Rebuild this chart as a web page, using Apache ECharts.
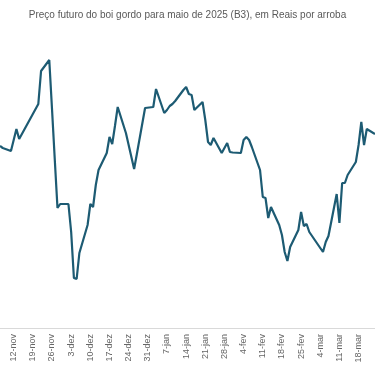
<!DOCTYPE html>
<html>
<head>
<meta charset="utf-8">
<script src="https://cdn.jsdelivr.net/npm/echarts@6/dist/echarts.min.js"></script>
<style>html,body{margin:0;padding:0;background:#fff}#c{width:375px;height:366px}</style>
</head>
<body>
<div id="c"></div>
<script>
const titleText = 'Preço futuro do boi gordo para maio de 2025 (B3), em Reais por arroba';
const monthNames = ['jan','fev','mar','abr','mai','jun','jul','ago','set','out','nov','dez'];
const dates = ['2024-11-07','2024-11-08','2024-11-11','2024-11-12','2024-11-13','2024-11-14','2024-11-18','2024-11-19','2024-11-21','2024-11-22','2024-11-25','2024-11-26','2024-11-27','2024-11-28','2024-11-29',
'2024-12-02','2024-12-03','2024-12-04','2024-12-05','2024-12-06','2024-12-09','2024-12-10','2024-12-11','2024-12-12','2024-12-13','2024-12-16','2024-12-17','2024-12-18','2024-12-19','2024-12-20','2024-12-23','2024-12-24','2024-12-26','2024-12-27','2024-12-30',
'2025-01-02','2025-01-03','2025-01-06','2025-01-07','2025-01-08','2025-01-09','2025-01-10','2025-01-13','2025-01-14','2025-01-15','2025-01-16','2025-01-17','2025-01-20','2025-01-21','2025-01-22','2025-01-23','2025-01-24','2025-01-27','2025-01-28','2025-01-29','2025-01-30','2025-01-31',
'2025-02-03','2025-02-04','2025-02-05','2025-02-06','2025-02-07','2025-02-10','2025-02-11','2025-02-12','2025-02-13','2025-02-14','2025-02-17','2025-02-18','2025-02-19','2025-02-20','2025-02-21','2025-02-24','2025-02-25','2025-02-26','2025-02-27','2025-02-28',
'2025-03-05','2025-03-06','2025-03-07','2025-03-10','2025-03-11','2025-03-12','2025-03-13','2025-03-14','2025-03-17','2025-03-18','2025-03-19','2025-03-20','2025-03-21','2025-03-24'];
const prices = [336.4,336.0,335.4,337.6,339.8,337.8,341.8,342.8,344.8,351.4,353.6,343.8,333.8,324.0,324.8,
324.8,319.2,310.0,309.8,315.0,320.6,324.8,324.2,328.6,331.6,335.0,338.2,336.8,340.4,344.2,339.0,336.6,331.8,334.8,344.0,
344.2,347.8,343.0,343.6,344.4,344.8,345.4,347.6,348.2,346.8,346.6,343.6,345.2,341.6,337.2,336.6,338.0,335.0,336.0,337.0,335.2,335.1,
335.0,337.6,338.2,337.6,336.2,331.6,326.2,326.0,322.0,324.2,320.6,318.6,315.2,313.4,316.2,319.6,323.2,320.4,320.8,319.2,
315.2,317.2,318.4,326.8,321.0,329.0,329.0,330.6,333.2,336.6,341.2,336.6,339.8,338.8];
const firstTickDate = '2024-11-12';

// calendar-day categories
const priceByDate = {};
dates.forEach((d, i) => { priceByDate[d] = prices[i]; });
const categories = [];
const values = [];
const start = new Date(dates[0] + 'T00:00:00Z');
const end = new Date(dates[dates.length - 1] + 'T00:00:00Z');
for (let t = start.getTime(); t <= end.getTime(); t += 86400000) {
  const iso = new Date(t).toISOString().slice(0, 10);
  categories.push(iso);
  values.push(priceByDate[iso] !== undefined ? priceByDate[iso] : null);
}
const tickIdx0 = categories.indexOf(firstTickDate);
function fmt(iso) {
  const d = new Date(iso + 'T00:00:00Z');
  return d.getUTCDate() + '-' + monthNames[d.getUTCMonth()];
}

const chart = echarts.init(document.getElementById('c'), null, {renderer: 'canvas'});
chart.setOption({
  animation: false,
  backgroundColor: '#ffffff',
  title: {
    text: titleText,
    left: 'center',
    top: 5,
    textStyle: {color: '#595959', fontSize: 10, fontWeight: 'normal', fontFamily: 'Liberation Sans, Arial, sans-serif'}
  },
  grid: {left: -1.8, right: -0.5, top: 38, bottom: 38, containLabel: false},
  xAxis: {
    type: 'category',
    data: categories,
    boundaryGap: false,
    axisLine: {show: true, lineStyle: {color: '#d9d9d9', width: 1}},
    axisTick: {show: false},
    axisLabel: {
      rotate: 90,
      margin: 6,
      color: '#666666',
      fontSize: 9,
      fontFamily: 'Liberation Sans, Arial, sans-serif',
      interval: (idx) => idx >= tickIdx0 && (idx - tickIdx0) % 7 === 0,
      formatter: (v) => fmt(v)
    },
    splitLine: {show: false}
  },
  yAxis: {
    type: 'value',
    min: 300,
    max: 358,
    show: false,
    splitLine: {show: false}
  },
  series: [{
    type: 'line',
    data: values,
    connectNulls: true,
    showSymbol: false,
    symbol: 'none',
    lineStyle: {color: '#1d5b73', width: 2.2},
    clip: true
  }]
});
</script>
</body>
</html>
